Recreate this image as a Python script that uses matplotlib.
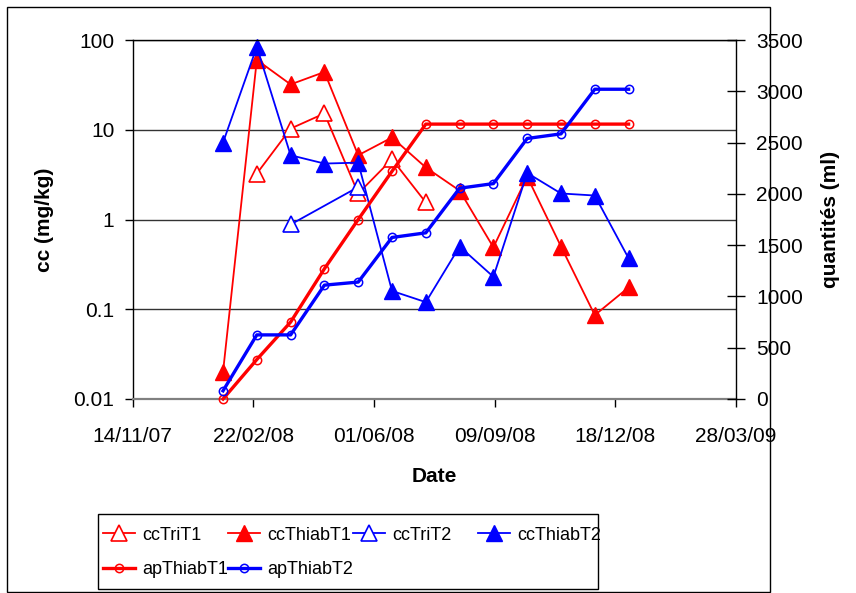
import matplotlib
matplotlib.use('Agg')
import matplotlib.pyplot as plt
import matplotlib.dates as mdates
import numpy as np
import datetime as dt
from matplotlib.patches import Rectangle

plt.rcParams['font.family'] = ['Liberation Sans', 'DejaVu Sans']

nan = np.nan
dates = ['2008-01-28', '2008-02-25', '2008-03-24', '2008-04-21', '2008-05-19',
         '2008-06-16', '2008-07-14', '2008-08-11', '2008-09-08', '2008-10-06',
         '2008-11-03', '2008-12-01', '2008-12-29']
ccTriT1 = [nan, 3.25, 10.3, 15.2, 1.95, 4.7, 1.55, nan, nan, nan, nan, nan, nan]
ccThiabT1 = [0.02, 60, 32, 44, 5.2, 8.2, 3.8, 2.1, 0.49, 3.0, 0.5, 0.086, 0.175]
ccTriT2 = [nan, nan, 0.88, nan, 2.3, nan, nan, nan, nan, nan, nan, nan, nan]
ccThiabT2 = [7.2, 84, 5.2, 4.2, 4.3, 0.16, 0.12, 0.5, 0.23, 3.3, 1.95, 1.85, 0.37]
apThiabT1 = [0, 385, 750, 1270, 1750, 2220, 2680, 2680, 2680, 2680, 2680, 2680, 2680]
apThiabT2 = [80, 625, 625, 1110, 1140, 1575, 1620, 2055, 2100, 2540, 2585, 3020, 3020]

xticks = ['2007-11-14', '2008-02-22', '2008-06-01', '2008-09-09', '2008-12-18', '2009-03-28']
yticks_left = [0.01, 0.1, 1, 10, 100]
yticklabels_left = ['0.01', '0.1', '1', '10', '100']
yticks_right = [0, 500, 1000, 1500, 2000, 2500, 3000, 3500]

x = np.array([dt.datetime.strptime(d, '%Y-%m-%d') for d in dates])
xt = [dt.datetime.strptime(d, '%Y-%m-%d') for d in xticks]

W, H = 856, 593
fig = plt.figure(figsize=(W / 100, H / 100), dpi=100)
L, R, T, B = 132.5, 736, 40, 399
ax = fig.add_axes([L / W, 1 - B / H, (R - L) / W, (B - T) / H])
ax2 = ax.twinx()

FS = 15


def plot_series(axis, vals, **kw):
    v = np.array(vals, dtype=float)
    m = ~np.isnan(v)
    return axis.plot(x[m], v[m], clip_on=False, **kw)[0]


tri_kw = dict(lw=1.3, marker='^', ms=11)
h1 = plot_series(ax, ccTriT1, color='#ff0000', mfc='white', mec='#ff0000', mew=1.2, **tri_kw)
h2 = plot_series(ax, ccThiabT1, color='#ff0000', mfc='#ff0000', mec='#ff0000', mew=1.0, **tri_kw)
h3 = plot_series(ax, ccTriT2, color='#0000ff', mfc='white', mec='#0000ff', mew=1.2, **tri_kw)
h4 = plot_series(ax, ccThiabT2, color='#0000ff', mfc='#0000ff', mec='#0000ff', mew=1.0, **tri_kw)

circ_kw = dict(lw=2.4, marker='o', ms=6, mfc='none', mew=1.1)
h5 = plot_series(ax2, apThiabT1, color='#ff0000', mec='#ff0000', **circ_kw)
h6 = plot_series(ax2, apThiabT2, color='#0000ff', mec='#0000ff', **circ_kw)

ax.set_yscale('log')
ax.set_ylim(0.01, 100)
ax.set_yticks(yticks_left)
ax.set_yticklabels(yticklabels_left)
ax.yaxis.set_minor_locator(matplotlib.ticker.NullLocator())
ax.set_xlim(xt[0], xt[-1])
ax.set_xticks(xt)
ax.xaxis.set_major_formatter(mdates.DateFormatter('%d/%m/%y'))
ax.grid(True, axis='y', which='major', color='#333333', lw=1.0)
ax.set_axisbelow(True)

ax2.set_ylim(0, 3500)
ax2.set_yticks(yticks_right)

for s in ['top', 'left']:
    ax.spines[s].set_color('black')
    ax.spines[s].set_linewidth(1.0)
ax.spines['bottom'].set_color('#808080')
ax.spines['bottom'].set_linewidth(1.6)
ax.spines['right'].set_visible(False)
for s in ['top', 'left', 'bottom']:
    ax2.spines[s].set_visible(False)
ax2.spines['right'].set_color('black')
ax2.spines['right'].set_linewidth(1.0)

ax.tick_params(axis='y', which='major', direction='out', length=6, width=1, labelsize=FS, pad=7)
ax.tick_params(axis='x', which='major', direction='out', length=6, width=1, labelsize=FS, pad=14)
ax2.tick_params(axis='y', direction='inout', length=13, width=1, labelsize=FS, pad=8)

ax.set_xlabel('Date', fontsize=FS, fontweight='bold')
ax.xaxis.set_label_coords(0.5, (B - 476) / (B - T))
ax.xaxis.label.set_va('center')
ax.set_ylabel('cc (mg/kg)', fontsize=FS, fontweight='bold')
ax.yaxis.set_label_coords((45 - L) / (R - L), 0.5)
ax.yaxis.label.set_va('center')
ax2.set_ylabel('quantités (ml)', fontsize=FS, fontweight='bold')
ax2.yaxis.set_label_coords((830 - L) / (R - L), 0.5)
ax2.yaxis.label.set_va('center')

# outer chart border
fig.patches.append(Rectangle((7 / W, 1 - 592 / H), 763 / W, 585 / H, transform=fig.transFigure,
                             fill=False, ec='black', lw=1.0))
# legend frame
fig.patches.append(Rectangle((98 / W, 1 - 589 / H), 500 / W, 75 / H, transform=fig.transFigure,
                             fill=False, ec='black', lw=1.0))

entries = [(h1, 'ccTriT1', 103, 535), (h2, 'ccThiabT1', 228, 535), (h3, 'ccTriT2', 353, 535),
           (h4, 'ccThiabT2', 478, 535), (h5, 'apThiabT1', 103, 570), (h6, 'apThiabT2', 228, 570)]
LFS = 13
for h, lab, px, py in entries:
    fig.legend(handles=[h], labels=[lab], loc='center left',
               bbox_to_anchor=(px / W, 1 - py / H), bbox_transform=fig.transFigure,
               frameon=False, borderpad=0, borderaxespad=0, handlelength=32 * 0.72 / LFS,
               handletextpad=7 * 0.72 / LFS, numpoints=1, fontsize=LFS)

fig.savefig('out.png', dpi=100)
